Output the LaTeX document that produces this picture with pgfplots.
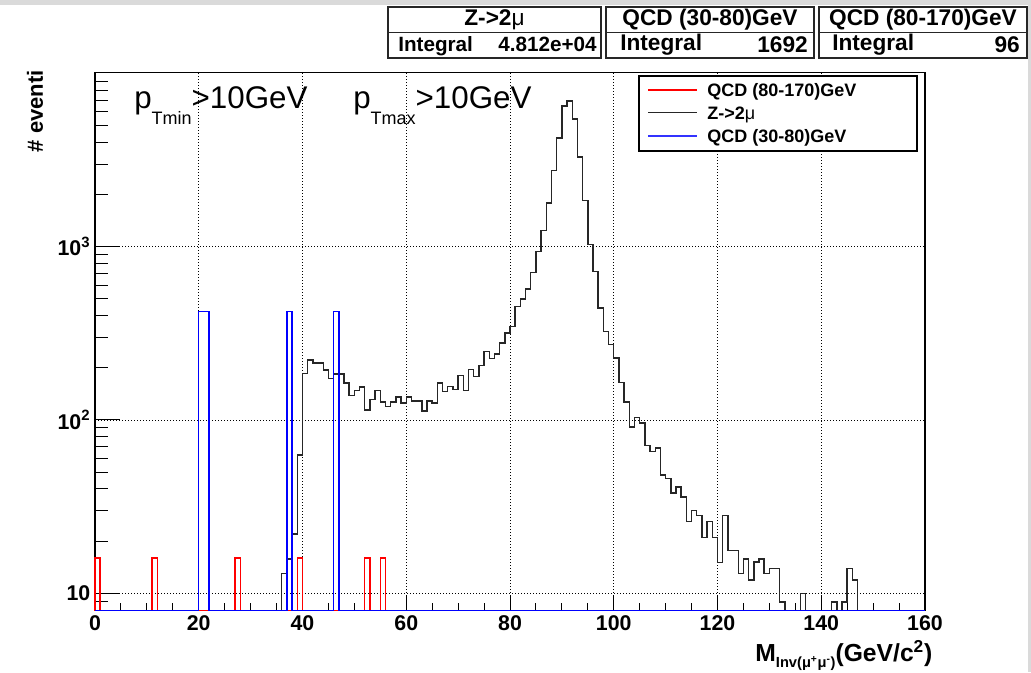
\documentclass[border=0pt]{standalone}
\usepackage{fontspec}
\setmainfont{Liberation Sans}
\usepackage{pgfplots}
\pgfplotsset{compat=1.18}

\definecolor{canvasgray}{RGB}{218,218,218}
\definecolor{hred}{RGB}{255,0,0}
\definecolor{hblue}{RGB}{0,0,255}

% ROOT-like sizes (1 px of the reference = 0.75pt)
\newcommand{\tickfont}{\bfseries\fontsize{16}{16}\selectfont}

\begin{document}
\begin{tikzpicture}
\useasboundingbox (0,0) rectangle (773.25pt,504pt);
\fill[canvasgray] (0,500pt) rectangle (773.25pt,504pt);
\fill[canvasgray] (771pt,0) rectangle (773.25pt,504pt);

\begin{axis}[
  at={(71.25pt,45.975pt)}, anchor=south west,
  scale only axis, width=622.5pt, height=403.5pt,
  xmin=0, xmax=160,
  ymode=log, ymin=7.93, ymax=10100,
  clip=false,
  axis line style={line width=1pt, black},
  tick pos=left, tick align=inside,
  xtick={0,20,...,160}, minor x tick num=3,
  ytick={10,100,1000},
  yticklabels={\textbf{10}, \textbf{10\textsuperscript{2}}, \textbf{10\textsuperscript{3}}},
  minor ytick={8,9,20,30,40,50,60,70,80,90,200,300,400,500,600,700,800,900,2000,3000,4000,5000,6000,7000,8000,9000},
  xtick style={line width=0.75pt, black, /pgfplots/major tick length=12pt, /pgfplots/minor tick length=6pt},
  ytick style={line width=0.75pt, black, /pgfplots/major tick length=18.75pt, /pgfplots/minor tick length=9.4pt},
  /pgf/number format/assume math mode=true,
  xticklabel style={font=\tickfont},
  yticklabel style={font=\tickfont},
  grid=major,
  grid style={black, line width=0.6pt, dash pattern=on 0.75pt off 1.5pt},
  xlabel={M\raisebox{-5pt}{\fontsize{11}{11}\selectfont Inv(μ\textsuperscript{+}μ\textsuperscript{-})}(GeV/c\textsuperscript{2})},
  xlabel style={font=\bfseries\fontsize{18.5}{18.5}\selectfont, at={(axis description cs:1.009,-0.0935)}, anchor=base east, inner sep=0pt},
  ylabel={\# eventi},
  ylabel style={font=\bfseries\fontsize{16.5}{16.5}\selectfont, at={(axis description cs:-0.0723,1.005)}, anchor=east, inner sep=0pt},
]

% QCD (80-170)GeV: six bins of 16 (integral 96)
\addplot[const plot, hred, line width=1.1pt] coordinates {
  (0,7.93) (0,16) (1,7.93) (11,16) (12,7.93) (27,16) (28,7.93)
  (39,16) (40,7.93) (52,16) (53,7.93) (55,16) (56,7.93) (160,7.93)
};

% Z->2mu, 1 GeV bins (left edge, content); empty bins at the bottom
\addplot[const plot, black!85, line width=1.1pt] coordinates {
  (35,7.93) (36,13) (37,15.8) (38,22) (39,62.8) (40,186) (41,222) (42,213) (43,213)
  (44,194) (45,173) (46,184) (47,184) (48,163) (49,138) (50,148) (51,155) (52,114)
  (53,131) (54,148) (55,127) (56,120) (57,127) (58,136) (59,125) (60,136) (61,129)
  (62,129) (63,113) (64,129) (65,125) (66,163) (67,146) (68,156) (69,150) (70,180)
  (71,148) (72,196) (73,178) (74,206) (75,248) (76,227) (77,241) (78,278) (79,317)
  (80,346) (81,451) (82,500) (83,569) (84,710) (85,940) (86,1242) (87,1790) (88,2760)
  (89,4250) (90,6470) (91,6920) (92,5470) (93,3300) (94,1847) (95,1027) (96,719)
  (97,442) (98,324) (99,273) (100,228) (101,165) (102,127) (103,91) (104,103)
  (105,96) (106,71) (107,66) (108,69) (109,48) (110,46) (111,38) (112,41) (113,36)
  (114,26) (115,30) (116,28) (117,21) (118,26) (119,21) (120,15) (121,28) (122,17.7)
  (123,17.7) (124,13) (125,15.8) (126,11.9) (127,15.1) (128,15.8) (129,13) (130,13.9)
  (131,13.9) (132,8.9) (133,7.93) (136,10) (137,7.93) (142,8.9) (143,7.93) (144,8.9)
  (145,13.9) (146,11.9) (147,7.93) (160,7.93)
};

% QCD (30-80)GeV: four bins of 423 (integral 1692)
\addplot[const plot, hblue, line width=1.1pt] coordinates {
  (0,7.93) (20,423) (22,7.93) (37,423) (38,7.93) (46,423) (47,7.93) (160,7.93)
};

\end{axis}

% text, legend and statistics boxes, in pixel units of the reference (y downwards)
\begin{scope}[shift={(0,504pt)}, x=0.75pt, y=-0.75pt]
  \node[anchor=base west, inner sep=0pt] at (134,108.4)
    {\fontsize{23.5}{23.5}\selectfont p\raisebox{-12pt}{\fontsize{13.5}{13.5}\selectfont Tmin}>10GeV};
  \node[anchor=base west, inner sep=0pt] at (353,108.4)
    {\fontsize{23.5}{23.5}\selectfont p\raisebox{-12pt}{\fontsize{13.5}{13.5}\selectfont Tmax}>10GeV};

  % legend
  \draw[line width=0.9pt, fill=white] (639,76) rectangle (917,151);
  \draw[hred, line width=1pt] (648,90) -- (697,90);
  \draw[black!85, line width=1pt] (648,112.7) -- (697,112.7);
  \draw[hblue!80, line width=1.3pt] (648,135.7) -- (697,135.7);
  \begin{scope}[every node/.style={inner sep=0pt, anchor=base west, font=\bfseries\fontsize{13.5}{13.5}\selectfont}]
    \node at (707,96.7) {QCD (80-170)GeV};
    \node at (707,119.3) {Z->2{\mdseries μ}};
    \node at (707,142.3) {QCD (30-80)GeV};
  \end{scope}

  \begin{scope}[line width=1.1pt, black!85]
    \draw (388,7) rectangle (601,58); \draw (388,32.5) -- (601,32.5);
    \draw (606,7) rectangle (814,58); \draw (606,32.5) -- (814,32.5);
    \draw (819,7) rectangle (1027,58); \draw (819,32.5) -- (1027,32.5);
  \end{scope}
  \begin{scope}[every node/.style={inner sep=0pt, font=\bfseries\fontsize{17}{17}\selectfont}]
    \node[anchor=base] at (494.5,26) {Z->2{\mdseries μ}};
    \node[anchor=base] at (710,26) {QCD (30-80)GeV};
    \node[anchor=base] at (923,26) {QCD (80-170)GeV};
    \node[anchor=base west] at (398,52) {\fontsize{15.5}{15.5}\selectfont Integral};
    \node[anchor=base east] at (597,52) {\fontsize{15.5}{15.5}\selectfont 4.812e+04};
    \node[anchor=base west] at (620,51) {Integral};
    \node[anchor=base east] at (808,53) {1692};
    \node[anchor=base west] at (832,51) {Integral};
    \node[anchor=base east] at (1020,53) {96};
  \end{scope}
\end{scope}
\end{tikzpicture}
\end{document}
